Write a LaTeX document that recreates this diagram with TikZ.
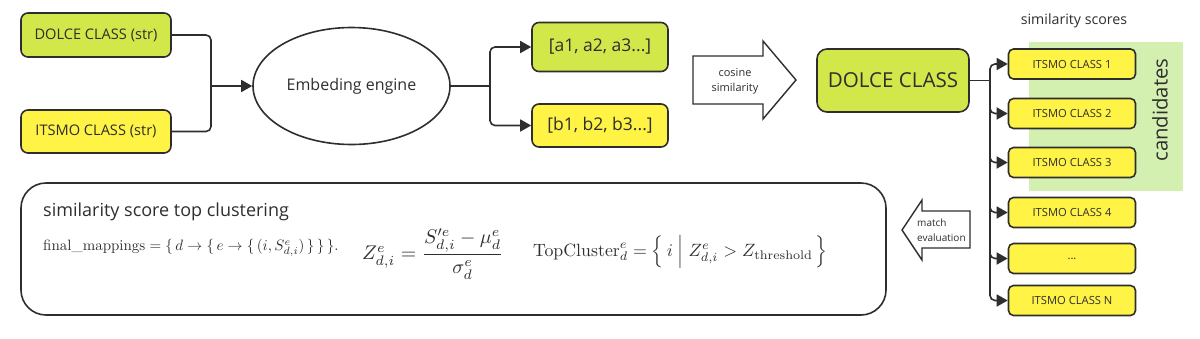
\documentclass[tikz,border=0pt]{standalone}
\usepackage{amsmath}
\usepackage{graphicx}
\usepackage{fontspec}
\newfontfamily\osans{Open Sans}
\usetikzlibrary{arrows.meta,shapes.geometric}
\definecolor{lime}{HTML}{D2E84A}
\definecolor{yel}{HTML}{FFF345}
\definecolor{cand}{HTML}{D4F0B0}
\definecolor{ink}{HTML}{2E2E2E}
\tikzset{
  box/.style={draw=ink, line width=1.6pt, rounded corners=7pt, inner sep=0pt, font=\osans\fontsize{14.6}{17}\selectfont, text=ink},
  limebox/.style={box, fill=lime},
  yelbox/.style={box, fill=yel},
  itbox/.style={box, fill=yel, minimum width=127pt, minimum height=30pt, rounded corners=5pt, font=\osans\fontsize{11.2}{13}\selectfont},
  conn/.style={draw=ink, line width=1.6pt, rounded corners=5pt},
  arr/.style={conn, -{Triangle[length=11pt,width=12pt]}},
  lbl/.style={text=ink, inner sep=0pt},
}
\begin{document}
\begin{tikzpicture}[x=1pt,y=-1pt]
\useasboundingbox (0,0) rectangle (1200,338);
% top left
\node[limebox, minimum width=150pt, minimum height=44pt] (dstr) at (96,35) {DOLCE CLASS (str)};
\node[yelbox, minimum width=150pt, minimum height=43pt] (istr) at (96,131.5) {ITSMO CLASS (str)};
\node[draw=ink, line width=1.6pt, ellipse, minimum width=197pt, minimum height=117pt, inner sep=0pt, text=ink, font=\osans\fontsize{16}{19}\selectfont] (emb) at (351.5,86) {Embeding engine};
\coordinate (jA) at (211,86);
\draw[conn] (dstr.east) -| (jA);
\draw[conn] (istr.east) -| (jA);
\draw[arr] (jA) -- (emb.west);
% vectors
\node[limebox, minimum width=136pt, minimum height=49pt, font=\osans\fontsize{17.5}{20}\selectfont] (va) at (600,47) {[a1, a2, a3...]};
\node[yelbox, minimum width=136pt, minimum height=43pt, font=\osans\fontsize{17.5}{20}\selectfont] (vb) at (600,125.5) {[b1, b2, b3...]};
\coordinate (jB) at (490,86);
\draw[conn] (emb.east) -- (jB);
\draw[arr] (jB) |- (va.west);
\draw[arr] (jB) |- (vb.west);
% cosine arrow
\draw[draw=ink, line width=1.4pt, fill=white, line join=miter] (693,56) -- (763,56) -- (763,41) -- (796,80) -- (763,119) -- (763,104) -- (693,104) -- cycle;
\node[lbl, font=\osans\fontsize{11}{13}\selectfont] (cos1) at (735,73) {cosine};
\node[lbl, font=\osans\fontsize{11}{13}\selectfont] (cos2) at (735,89) {similarity};
% candidates
\fill[cand] (1029,42) rectangle (1183,191);
\node[lbl, rotate=90, font=\osans\fontsize{20.3}{24}\selectfont] (candt) at (1160,110) {candidates};
\node[lbl, font=\osans\fontsize{14.2}{17}\selectfont] (simsc) at (1074,21) {similarity scores};
% dolce class
\node[limebox, minimum width=152pt, minimum height=63pt, rounded corners=10pt, font=\osans\fontsize{20.6}{24}\selectfont] (dc) at (893,80.5) {DOLCE CLASS};
\node[itbox] (i1) at (1072,64) {ITSMO CLASS 1};
\node[itbox] (i2) at (1072,113.5) {ITSMO CLASS 2};
\node[itbox] (i3) at (1072,162.5) {ITSMO CLASS 3};
\node[itbox] (i4) at (1072,212.5) {ITSMO CLASS 4};
\node[itbox] (i5) at (1072,258.5) {...};
\node[itbox] (i6) at (1072,300.5) {ITSMO CLASS N};
\coordinate (jC) at (990,80.5);
\draw[conn] (dc.east) -- (jC);
\foreach \t in {i1,i2,i3,i4,i5,i6} \draw[arr] (jC) |- (\t.west);
% bottom box
\draw[draw=ink, line width=1.6pt, rounded corners=25pt] (21,183) rectangle (886,315);
\node[lbl, anchor=west, font=\osans\fontsize{18}{21}\selectfont] (title) at (43,212) {similarity score top clustering};
\node[lbl, anchor=west] (fm) at (43,248) {\scalebox{1.5}{$\text{final\_mappings} = \{\, d \to \{\, e \to \{\, (i, S^{e}_{d,i}) \,\}\,\}\,\}.$}};
\node[lbl, anchor=west] (zf) at (362,254) {\scalebox{1.98}{$Z^{e}_{d,i} = \dfrac{S'^{e}_{d,i} - \mu^{e}_{d}}{\sigma^{e}_{d}}$}};
\node[lbl, anchor=west] (tc) at (533,252) {\scalebox{1.78}{$\text{TopCluster}^{e}_{d} = \left\{\, i \;\middle|\; Z^{e}_{d,i} > Z_{\text{threshold}} \,\right\}$}};
% match evaluation arrow
\draw[draw=ink, line width=1.4pt, fill=white, line join=miter] (970,211) -- (922,211) -- (922,200) -- (902,230) -- (922,260) -- (922,248) -- (970,248) -- cycle;
\node[lbl, anchor=west, font=\osans\fontsize{10}{12}\selectfont] (me1) at (917,223) {match};
\node[lbl, anchor=west, font=\osans\fontsize{10}{12}\selectfont] (me2) at (917,238) {evaluation};
\end{tikzpicture}
\end{document}
